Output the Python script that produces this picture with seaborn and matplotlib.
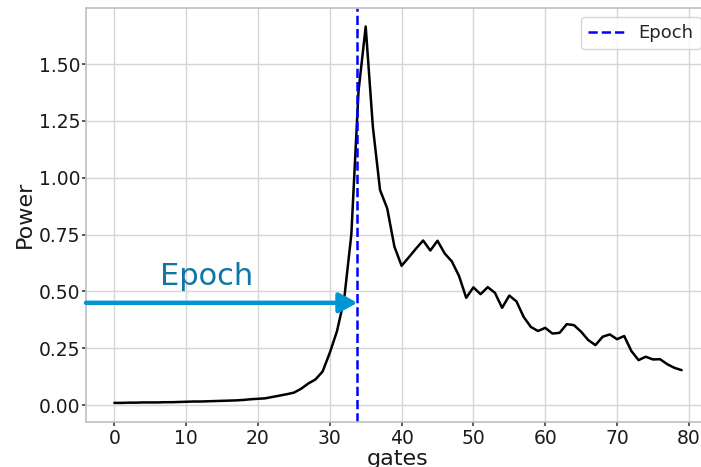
import numpy as np
import pandas as pd
import matplotlib
matplotlib.use("Agg")
import matplotlib.pyplot as plt
import seaborn as sns

# Power per gate
gates = list(range(80))
power = [
    0.010, 0.010, 0.011, 0.011, 0.012, 0.012, 0.012, 0.013, 0.013, 0.014,
    0.015, 0.016, 0.016, 0.017, 0.018, 0.019, 0.020, 0.021, 0.023, 0.026,
    0.028, 0.030, 0.036, 0.042, 0.048, 0.055, 0.072, 0.095, 0.113, 0.148,
    0.230, 0.325, 0.465, 0.750, 1.380, 1.665, 1.224, 0.946, 0.865, 0.697,
    0.613, 0.650, 0.688, 0.724, 0.680, 0.723, 0.667, 0.632, 0.568, 0.472,
    0.518, 0.488, 0.519, 0.494, 0.428, 0.482, 0.456, 0.388, 0.344, 0.326,
    0.340, 0.315, 0.318, 0.356, 0.352, 0.323, 0.286, 0.264, 0.301, 0.311,
    0.290, 0.304, 0.238, 0.198, 0.213, 0.201, 0.202, 0.180, 0.164, 0.154,
]
epoch_gate = 33.85
arrow_level = 0.45

df = pd.DataFrame({"gates": gates, "Power": power})

sns.set_theme(style="whitegrid")
plt.rcParams["font.family"] = ["DejaVu Sans"]
plt.rcParams.update({
    "axes.edgecolor": "#bfbfbf",
    "axes.linewidth": 1.2,
    "grid.color": "#d6d6d6",
    "grid.linewidth": 1.0,
    "xtick.bottom": True,
    "ytick.left": True,
    "xtick.color": "#444444",
    "ytick.color": "#444444",
    "xtick.labelcolor": "#1a1a1a",
    "ytick.labelcolor": "#1a1a1a",
    "xtick.major.size": 3,
    "ytick.major.size": 3,
    "xtick.major.pad": 2.5,
    "ytick.major.pad": 1.2,
})

fig = plt.figure(figsize=(7.01, 4.67), dpi=100)
ax = fig.add_axes([86 / 701, 45.3 / 467, 624 / 701, 414 / 467])

sns.lineplot(data=df, x="gates", y="Power", color="black", linewidth=1.8, ax=ax)

ax.margins(x=0.05, y=0.05)
ax.set_yticks([0.0, 0.25, 0.5, 0.75, 1.0, 1.25, 1.5])
ax.set_yticklabels(["0.00", "0.25", "0.50", "0.75", "1.00", "1.25", "1.50"])
ax.set_xticks(range(0, 81, 10))
ax.tick_params(labelsize=13.5)
ax.set_xlabel("gates", fontsize=16, color="#1a1a1a", labelpad=0.5)
ax.set_ylabel("Power", fontsize=16, color="#1a1a1a", labelpad=3)

ax.axvline(epoch_gate, color="blue", linestyle="--", linewidth=1.8, label="Epoch")

x_left = ax.get_xlim()[0]
ax.annotate(
    "", xy=(epoch_gate, arrow_level), xytext=(x_left, arrow_level),
    arrowprops=dict(arrowstyle="-|>,head_length=0.55,head_width=0.3",
                    color="#0096d6", lw=3.2, mutation_scale=20,
                    shrinkA=0, shrinkB=0),
    annotation_clip=False,
)
ax.text(6.4, 0.528, "Epoch", fontsize=22, color="#0f76a6",
        ha="left", va="baseline")

leg = ax.legend(loc="upper right", fontsize=13, frameon=True)
leg.get_frame().set_edgecolor("#cccccc")

fig.savefig("out.png", dpi=100)
